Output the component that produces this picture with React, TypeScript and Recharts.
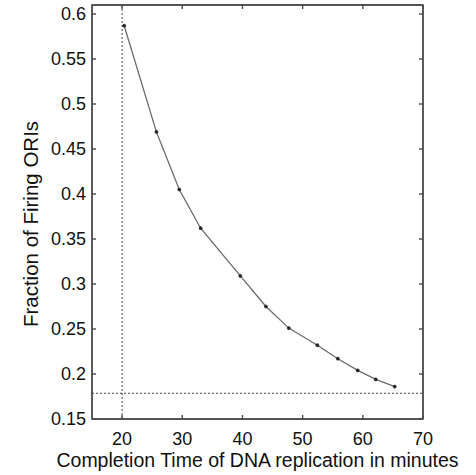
import {
  LineChart,
  Line,
  XAxis,
  YAxis,
  ReferenceLine,
  ReferenceArea,
  Label,
} from "recharts";

// completion time (min) vs fraction of firing origins
const minutes = [20.35, 25.7, 29.5, 33.05, 39.65, 43.9, 47.7, 52.45, 55.85, 59.15, 62.15, 65.3];
const fraction = [0.587, 0.469, 0.405, 0.362, 0.309, 0.275, 0.251, 0.232, 0.217, 0.204, 0.194, 0.186];

const xTicks = [20, 30, 40, 50, 60, 70];
const yTicks = [0.15, 0.2, 0.25, 0.3, 0.35, 0.4, 0.45, 0.5, 0.55, 0.6];

const xDomain = [15, 70];
const yDomain = [0.15, 0.61];

const minTime = 20;
const minFraction = 0.1786;

const data = minutes.map((m, i) => ({ t: m, f: fraction[i] }));

const FONT = "'Liberation Sans', Arial, Helvetica, sans-serif";
const FRAME = "#4a4a4a";
const tickStyle = { fontSize: 18, fill: "#111", fontFamily: FONT };
const noLabel = () => "";

export default function App() {
  return (
    <div style={{ position: "absolute", left: 0, top: 0, background: "#fff" }}>
      <LineChart
        width={476}
        height={475}
        data={data}
        margin={{ top: 5, right: 53, bottom: 0, left: 0 }}
        style={{ fontFamily: FONT }}
      >
        <XAxis
          dataKey="t"
          type="number"
          domain={xDomain}
          ticks={xTicks}
          height={56}
          axisLine={{ stroke: FRAME, strokeWidth: 1.4 }}
          tickLine={{ stroke: FRAME, strokeWidth: 1.4 }}
          tickSize={-4}
          tickMargin={17}
          tick={tickStyle}
          allowDataOverflow
        >
          <Label
            content={() => (
              <text x={257.5} y={467} textAnchor="middle" fontSize={19.5} fill="#111" fontFamily={FONT}>
                Completion Time of DNA replication in minutes
              </text>
            )}
          />
        </XAxis>
        <XAxis
          xAxisId="top"
          orientation="top"
          dataKey="t"
          type="number"
          domain={xDomain}
          ticks={xTicks}
          mirror
          height={20}
          axisLine={{ stroke: FRAME, strokeWidth: 1.4 }}
          tickLine={{ stroke: FRAME, strokeWidth: 1.4 }}
          tickSize={4}
          tickFormatter={noLabel}
          allowDataOverflow
        />
        <YAxis
          type="number"
          domain={yDomain}
          ticks={yTicks}
          width={92}
          axisLine={{ stroke: FRAME, strokeWidth: 1.4 }}
          tickLine={{ stroke: FRAME, strokeWidth: 1.4 }}
          tickSize={-4}
          tickMargin={10}
          tick={tickStyle}
          allowDataOverflow
        >
          <Label
            content={() => (
              <text
                x={38}
                y={224}
                transform="rotate(-90 38 224)"
                textAnchor="middle"
                fontSize={20.5}
                fill="#111"
                fontFamily={FONT}
              >
                Fraction of Firing ORIs
              </text>
            )}
          />
        </YAxis>
        <YAxis
          yAxisId="right"
          orientation="right"
          type="number"
          domain={yDomain}
          ticks={yTicks}
          mirror
          width={20}
          axisLine={{ stroke: FRAME, strokeWidth: 1.4 }}
          tickLine={{ stroke: FRAME, strokeWidth: 1.4 }}
          tickSize={4}
          tickFormatter={noLabel}
          allowDataOverflow
        />
        {/* box around the plot, in case an axis line is dropped */}
        <ReferenceArea
          x1={xDomain[0]}
          x2={xDomain[1]}
          y1={yDomain[0]}
          y2={yDomain[1]}
          fill="none"
          fillOpacity={0}
          stroke={FRAME}
          strokeWidth={1.4}
        />
        <ReferenceLine x={minTime} stroke="#444" strokeDasharray="2 2" strokeWidth={1} />
        <ReferenceLine y={minFraction} stroke="#444" strokeDasharray="2 2" strokeWidth={1} />
        <Line
          type="linear"
          dataKey="f"
          stroke="#6a6a6a"
          strokeWidth={1.3}
          dot={{ r: 1.6, fill: "#222", stroke: "#222", strokeWidth: 0.5 }}
          isAnimationActive={false}
        />
      </LineChart>
    </div>
  );
}
